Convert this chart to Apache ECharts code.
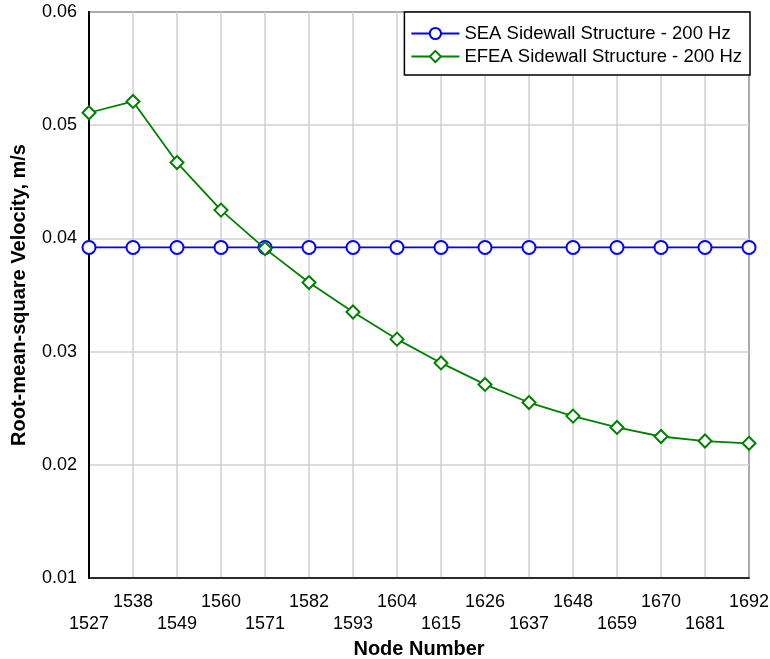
<!DOCTYPE html>
<html><head><meta charset="utf-8">
<script src="https://cdn.jsdelivr.net/npm/echarts@6/dist/echarts.min.js"></script>
<style>html,body{margin:0;padding:0;background:#fff}#c{width:770px;height:659px}</style>
</head><body><div id="c"></div>
<script>
var nodes = ['1527','1538','1549','1560','1571','1582','1593','1604','1615','1626','1637','1648','1659','1670','1681','1692'];
var seaValues = [0.0392,0.0392,0.0392,0.0392,0.0392,0.0392,0.0392,0.0392,0.0392,0.0392,0.0392,0.0392,0.0392,0.0392,0.0392,0.0392];
var efeaValues = [0.0511,0.0521,0.0467,0.0425,0.0391,0.0361,0.0335,0.0311,0.0290,0.0271,0.0255,0.0243,0.0233,0.0225,0.0221,0.0219];
var yTicks = [0.01,0.02,0.03,0.04,0.05,0.06];

var chart = echarts.init(document.getElementById('c'), null, {renderer:'canvas'});
var font = 'Liberation Sans, Arial, sans-serif';
chart.setOption({
  animation:false,
  backgroundColor:'#fff',
  grid:{left:89,right:21,top:12,bottom:81,outerBoundsMode:'none',containLabel:false,show:true,borderColor:'#000',borderWidth:1.5,backgroundColor:'transparent'},
  legend:{
    top:12,right:20,orient:'vertical',
    backgroundColor:'#fff',borderColor:'#000',borderWidth:1.5,
    padding:[12,8,9,6],itemGap:4,itemWidth:48,itemHeight:14,
    textStyle:{fontFamily:font,fontSize:18.5,color:'#000'},
    data:['SEA Sidewall Structure - 200 Hz','EFEA Sidewall Structure - 200 Hz']
  },
  xAxis:{
    type:'category',data:nodes,boundaryGap:false,
    name:'Node Number',nameLocation:'middle',nameGap:55,
    nameTextStyle:{fontFamily:font,fontSize:20,fontWeight:'bold',color:'#000'},
    axisLine:{lineStyle:{color:'#000',width:1.5}},
    axisTick:{show:false},
    axisLabel:{interval:0,margin:13,fontFamily:font,fontSize:18,color:'#000',lineHeight:22,
      formatter:function(v,i){return i%2===1? v : '\n'+v;}},
    splitLine:{show:true,lineStyle:{color:'#d0d0d0',width:1.5}}
  },
  yAxis:{
    type:'value',min:0.01,max:0.06,interval:0.01,
    name:'Root-mean-square Velocity, m/s',nameLocation:'middle',nameGap:60,
    nameTextStyle:{fontFamily:font,fontSize:20,fontWeight:'bold',color:'#000'},
    axisLine:{show:true,lineStyle:{color:'#000',width:2}},
    axisTick:{show:false},
    axisLabel:{margin:12,fontFamily:font,fontSize:18,color:'#000',
      formatter:function(v){var t=yTicks.filter(function(x){return Math.abs(x-v)<1e-9;});return t.length?t[0].toFixed(2):'';}},
    splitLine:{show:true,lineStyle:{color:'#d0d0d0',width:1.5}}
  },
  series:[
    {name:'SEA Sidewall Structure - 200 Hz',type:'line',data:seaValues,
     symbol:'circle',symbolSize:13,showAllSymbol:true,
     lineStyle:{color:'#0000ff',width:1.8},
     itemStyle:{color:'#fff',borderColor:'#0000ff',borderWidth:2},z:2},
    {name:'EFEA Sidewall Structure - 200 Hz',type:'line',data:efeaValues,
     symbol:'diamond',symbolSize:[13,13],showAllSymbol:true,
     lineStyle:{color:'#008000',width:1.8},
     itemStyle:{color:'#fff',borderColor:'#008000',borderWidth:2},z:3}
  ]
});
</script></body></html>
